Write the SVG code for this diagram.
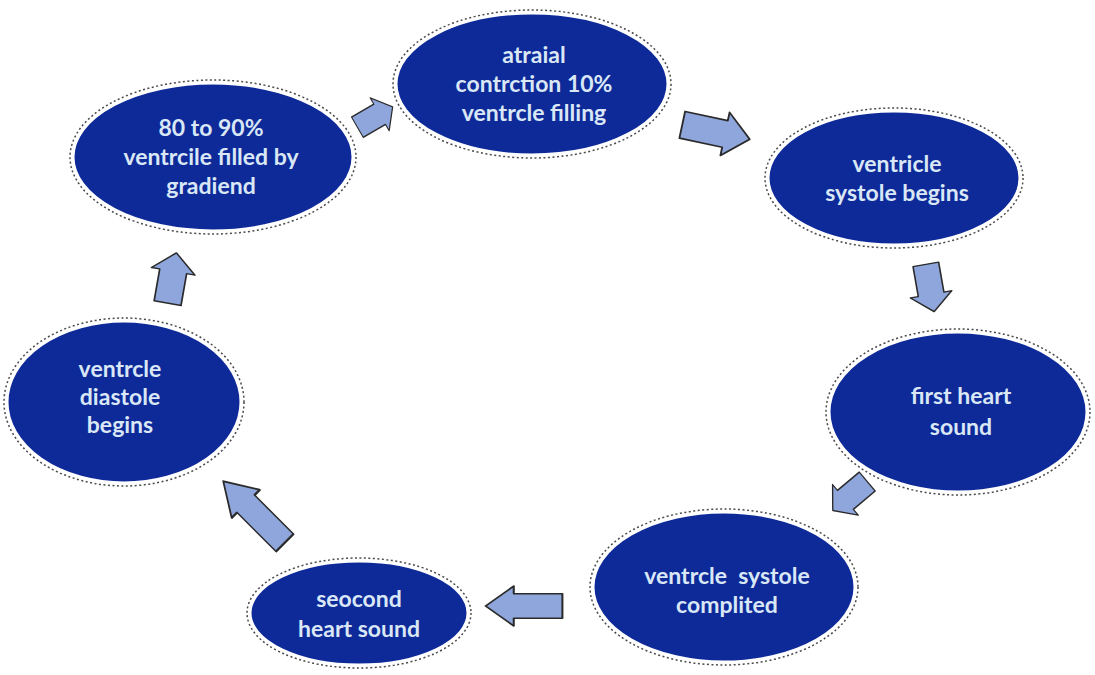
<svg xmlns="http://www.w3.org/2000/svg" width="1095" height="675" viewBox="0 0 1095 675">
<defs>
<style>
.node{fill:#0e2a98;stroke:#ffffff;stroke-width:3}
.ring{fill:none;stroke:#4a4a4a;stroke-width:1.5;stroke-dasharray:2 2.5}
.lbl{font-family:Lato,"Open Sans","Liberation Sans",sans-serif;font-size:23px;font-weight:700;fill:#d9e7f6;text-anchor:middle}
.arr{fill:#8ea6dc;stroke:#2a2a2a;stroke-width:1.6;stroke-linejoin:round}
</style>
<path id="ar" d="M-30,-13 L8,-13 L8,-21 L30,0 L8,21 L8,13 L-30,13 Z"/>
</defs>
<rect width="1095" height="675" fill="#ffffff"/>
<g id="connectors">
<use href="#ar" class="arr" transform="translate(375,117) rotate(-30) scale(0.68,0.9)"/>
<use href="#ar" class="arr" transform="translate(716,132) rotate(12) scale(1.15,1.05)"/>
<use href="#ar" class="arr" transform="translate(930,288) rotate(80) scale(0.8,1)"/>
<use href="#ar" class="arr" transform="translate(850,496) rotate(140) scale(0.75,0.95)"/>
<use href="#ar" class="arr" transform="translate(524,606) rotate(180) scale(1.28,0.95)"/>
<use href="#ar" class="arr" transform="translate(254,512) rotate(-135) scale(1.45,0.95)"/>
<use href="#ar" class="arr" transform="translate(172,278) rotate(-80) scale(0.85,1.05)"/>
</g>
<g id="n1">
<ellipse class="ring" cx="532" cy="84" rx="139" ry="74"/>
<ellipse class="node" cx="532" cy="84" rx="136" ry="71"/>
<text class="lbl" x="534" y="63">atraial</text>
<text class="lbl" x="534" y="92">contrction 10%</text>
<text class="lbl" x="534" y="121">ventrcle filling</text>
</g>
<g id="n2">
<ellipse class="ring" cx="213" cy="157" rx="143" ry="77"/>
<ellipse class="node" cx="213" cy="157" rx="140" ry="74"/>
<text class="lbl" x="211" y="136">80 to 90%</text>
<text class="lbl" x="211" y="165">ventrcile filled by</text>
<text class="lbl" x="211" y="194">gradiend</text>
</g>
<g id="n3">
<ellipse class="ring" cx="894" cy="178" rx="129" ry="70"/>
<ellipse class="node" cx="894" cy="178" rx="126" ry="67"/>
<text class="lbl" x="897" y="172">ventricle</text>
<text class="lbl" x="897" y="201">systole begins</text>
</g>
<g id="n4">
<ellipse class="ring" cx="958" cy="412" rx="132" ry="83"/>
<ellipse class="node" cx="958" cy="412" rx="129" ry="80"/>
<text class="lbl" x="961" y="404">first heart</text>
<text class="lbl" x="961" y="435">sound</text>
</g>
<g id="n5">
<ellipse class="ring" cx="724" cy="587" rx="134" ry="78"/>
<ellipse class="node" cx="724" cy="587" rx="131" ry="75"/>
<text class="lbl" x="727" y="584" xml:space="preserve">ventrcle  systole</text>
<text class="lbl" x="727" y="613">complited</text>
</g>
<g id="n6">
<ellipse class="ring" cx="359" cy="613" rx="112" ry="55"/>
<ellipse class="node" cx="359" cy="613" rx="109" ry="52"/>
<text class="lbl" x="359" y="607">seocond</text>
<text class="lbl" x="359" y="637">heart sound</text>
</g>
<g id="n7">
<ellipse class="ring" cx="124" cy="402" rx="120" ry="84"/>
<ellipse class="node" cx="124" cy="402" rx="117" ry="81"/>
<text class="lbl" x="120" y="377">ventrcle</text>
<text class="lbl" x="120" y="405">diastole</text>
<text class="lbl" x="120" y="433">begins</text>
</g>
</svg>
